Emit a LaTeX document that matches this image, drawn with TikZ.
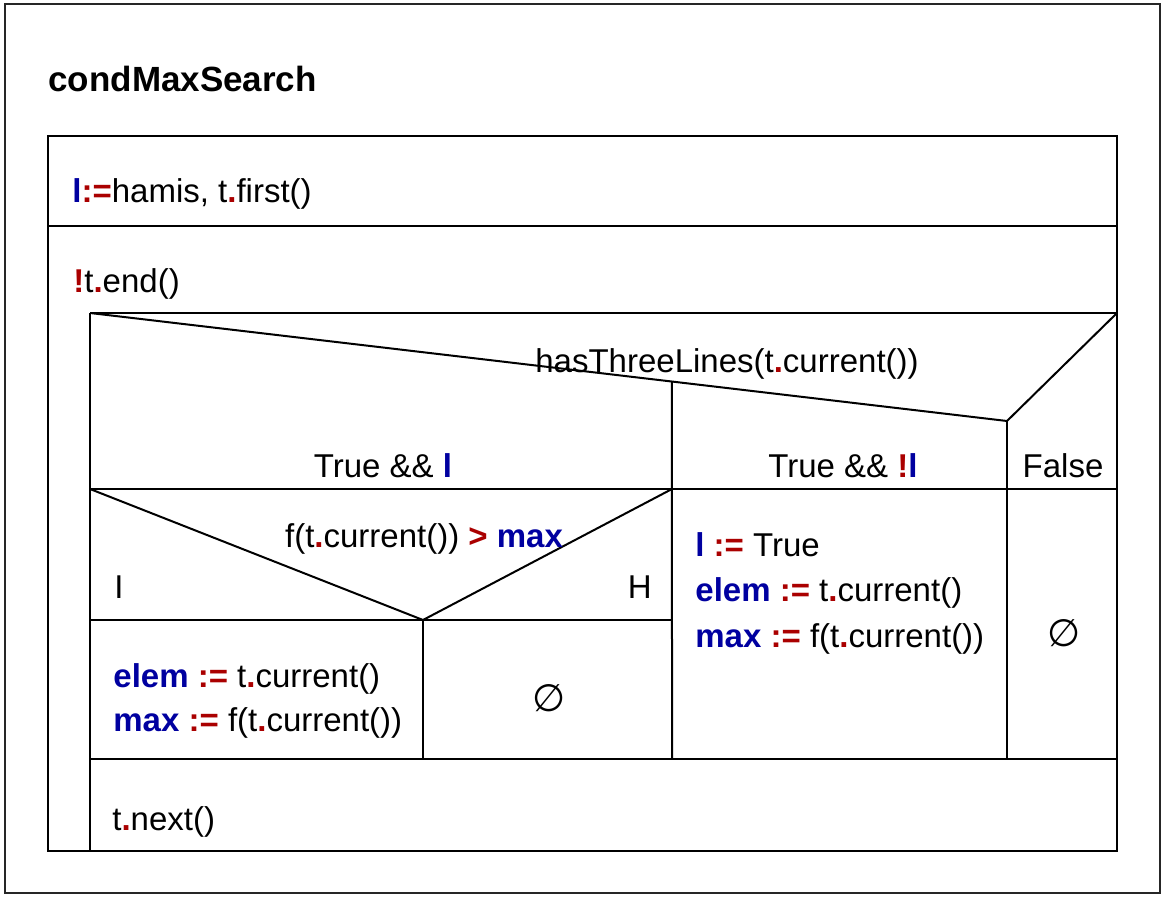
\documentclass[tikz,border=0pt]{standalone}
\usepackage{fontspec}
\setmainfont{Liberation Sans}
\newfontfamily\symfont{DejaVu Sans}
\usetikzlibrary{positioning}
\definecolor{nsblue}{RGB}{0,0,160}
\definecolor{nsred}{RGB}{170,0,0}
\newcommand{\nsvar}[1]{\textcolor{nsblue}{\textbf{#1}}}
\newcommand{\nsop}[1]{\textcolor{nsred}{\textbf{#1}}}

\begin{document}
\begin{tikzpicture}[x=0.5pt, y=-0.5pt,
    nsline/.style={line width=1pt},
    nstext/.style={inner sep=0pt, font=\fontsize{16.5}{22}\selectfont},
    nsempty/.style={inner sep=0pt, font=\fontsize{19}{22}\symfont}]
\useasboundingbox (0,0) rectangle (1165,897);
\draw[line width=0.75pt, black!85] (5,4) rectangle (1160,893);

\node[nstext, anchor=base west, font=\fontsize{17.5}{22}\selectfont\bfseries] (title) at (48,92) {condMaxSearch};

\coordinate (boxTL) at (48,136);
\coordinate (boxBR) at (1117,851);
\coordinate (swL) at (90,313);
\coordinate (swV) at (1007,421);
\coordinate (swR) at (1117,313);
\coordinate (ifL) at (90,489);
\coordinate (ifV) at (423,620);
\coordinate (ifR) at (672,489);

\draw[nsline] (boxTL) rectangle (boxBR);
\draw[nsline] (48,226) -- (1117,226);
\draw[nsline] (swL) -- (swR);
\draw[nsline] (swL) -- (90,851);
\draw[nsline] (swL) -- (swV) -- (swR);
\draw[nsline] (intersection of swL--swV and 672,313--672,759) -- (672,759);
\draw[nsline] (swV) -- (1007,759);
\draw[nsline] (ifL) -- (1117,489);
\draw[nsline] (ifL) -- (ifV) -- (ifR);
\draw[nsline] (90,620) -- (672,620);
\draw[nsline] (ifV) -- (423,759);
\draw[nsline] (90,759) -- (1117,759);

\node[nstext, anchor=base west] (init) at (72,203) {\nsvar{l}\nsop{:=}hamis, t\nsop{.}first()};
\node[nstext, anchor=base west] (loopcond) at (73,293) {\nsop{!}t\nsop{.}end()};
\node[nstext, anchor=base] (swcond) at (727,372) {hasThreeLines(t\nsop{.}current())};
\node[nstext, anchor=base] (caseA) at (383,477) {True \&\& \nsvar{l}};
\node[nstext, anchor=base] (caseB) at (843,477) {True \&\& \nsop{!}\nsvar{l}};
\node[nstext, anchor=base] (caseC) at (1063,477) {False};

\node[nstext, anchor=base] (ifcond) at (424,547) {f(t\nsop{.}current()) \nsop{>} \nsvar{max}};
\node[nstext, anchor=base west] (ifyes) at (114,598) {I};
\node[nstext, anchor=base east] (ifno) at (652,598) {H};

\node[nstext, anchor=base west] (elemA) at (113,687) {\nsvar{elem} \nsop{:=} t\nsop{.}current()};
\node[nstext, below=22pt of elemA.base west, anchor=base west] (maxA) {\nsvar{max} \nsop{:=} f(t\nsop{.}current())};
\node[nsempty] (emptyA) at (549,698) {∅};

\node[nstext, anchor=base west] (setB) at (695,556) {\nsvar{l} \nsop{:=} True};
\node[nstext, below=22.75pt of setB.base west, anchor=base west] (elemB) {\nsvar{elem} \nsop{:=} t\nsop{.}current()};
\node[nstext, below=22.75pt of elemB.base west, anchor=base west] (maxB) {\nsvar{max} \nsop{:=} f(t\nsop{.}current())};
\node[nsempty] (emptyC) at (1064,633) {∅};

\node[nstext, anchor=base west] (step) at (112,830) {t\nsop{.}next()};
\end{tikzpicture}
\end{document}
